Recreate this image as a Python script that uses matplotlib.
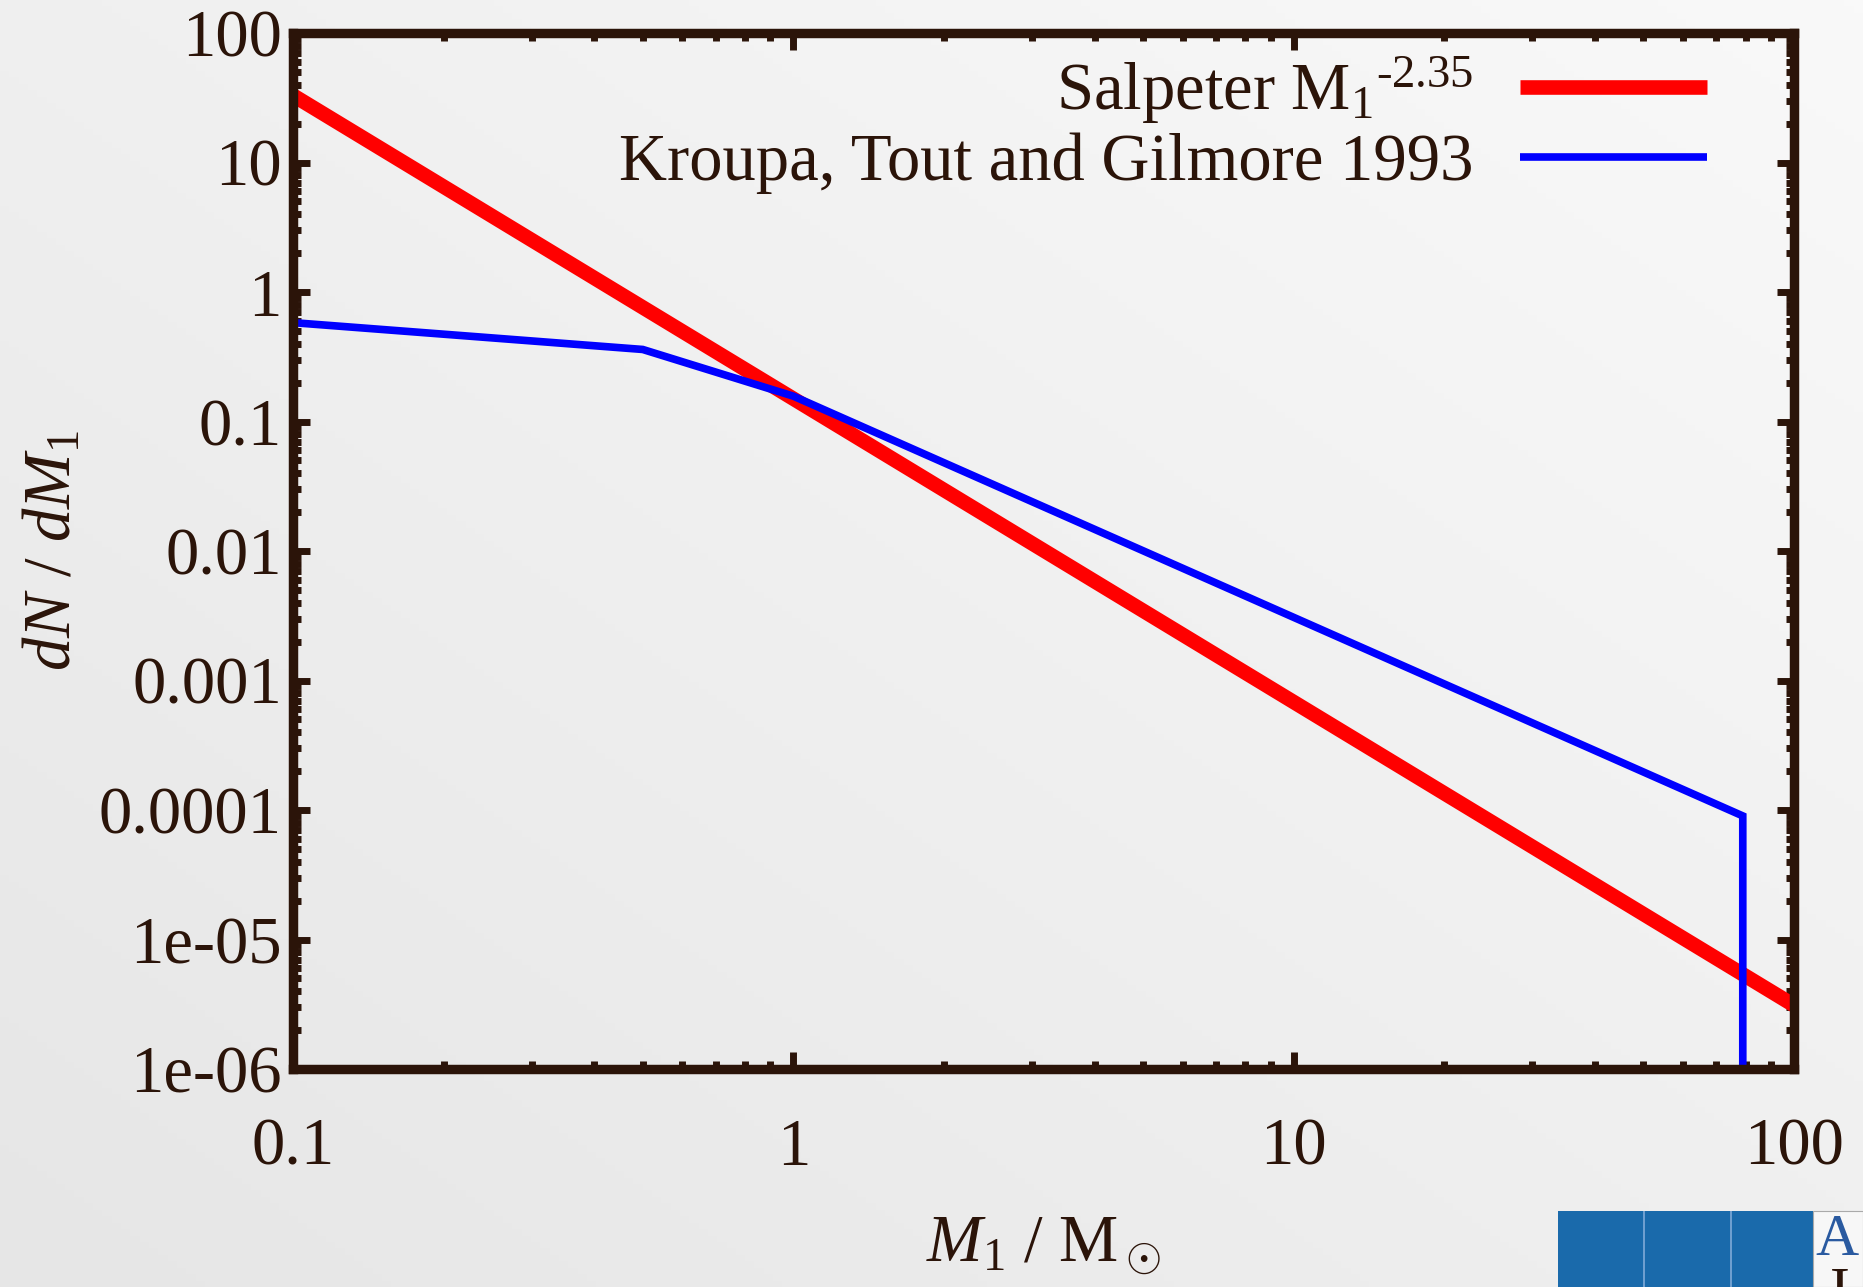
import numpy as np
import matplotlib
matplotlib.use("Agg")
import matplotlib.pyplot as plt
from matplotlib.patches import Rectangle

# ---- data ----
salpeter_mass = [0.1, 100.0]
salpeter_dndm = [33.0, 3.1e-6]

ktg_mass = [0.1, 0.5, 1.0, 79.0, 79.0]
ktg_dndm = [0.58, 0.36, 0.157, 9.0e-5, 1.0e-6]

x_ticks = [0.1, 1, 10, 100]
x_ticklabels = ["0.1", "1", "10", "100"]
y_ticks = [1e-6, 1e-5, 1e-4, 1e-3, 1e-2, 1e-1, 1, 10, 100]
y_ticklabels = ["1e-06", "1e-05", "0.0001", "0.001", "0.01", "0.1", "1", "10", "100"]

labels = [r"Salpeter M$_1{}^{\text{-2.35}}$", "Kroupa, Tout and Gilmore 1993"]

# ---- style ----
ink = "#2b1409"
plt.rcParams["font.family"] = ["Liberation Serif", "DejaVu Serif"]
plt.rcParams["mathtext.fontset"] = "custom"
plt.rcParams["mathtext.rm"] = "Liberation Serif"
plt.rcParams["mathtext.it"] = "Liberation Serif:italic"
plt.rcParams["mathtext.bf"] = "Liberation Serif:bold"

W, H, DPI = 1863, 1287, 100
fig = plt.figure(figsize=(W / DPI, H / DPI), dpi=DPI)
fig.patch.set_facecolor("#f0f0f0")

# background gradient (light top-right, slightly darker bottom-left)
bg = fig.add_axes([0, 0, 1, 1], zorder=-10)
gx, gy = np.meshgrid(np.linspace(0, 1, 200), np.linspace(0, 1, 200))
grad = 0.5 * gx + 0.5 * (1 - gy)
bg.imshow(grad, cmap=matplotlib.colors.LinearSegmentedColormap.from_list(
    "g", ["#e6e6e6", "#f9f9f9"]), aspect="auto", extent=[0, 1, 0, 1], origin="upper")
bg.set_axis_off()

L, R, T, B = 293, 1794, 33, 1069
ax = fig.add_axes([L / W, 1 - B / H, (R - L) / W, (B - T) / H])
ax.set_facecolor("none")

ax.plot(salpeter_mass, salpeter_dndm, color="#ff0000", lw=10.5, solid_capstyle="butt",
        label=labels[0], zorder=3)
ax.plot(ktg_mass, ktg_dndm, color="#0000ff", lw=5.5, solid_joinstyle="miter",
        solid_capstyle="butt", label=labels[1], zorder=4)

ax.set_xscale("log")
ax.set_yscale("log")
ax.set_xlim(0.1, 100)
ax.set_ylim(1e-6, 100)
ax.set_xticks(x_ticks)
ax.set_xticklabels(x_ticklabels)
ax.set_yticks(y_ticks)
ax.set_yticklabels(y_ticklabels)
ax.xaxis.set_minor_locator(matplotlib.ticker.LogLocator(base=10, subs=np.arange(2, 10)))
ax.yaxis.set_minor_locator(matplotlib.ticker.LogLocator(base=10, subs=np.arange(2, 10), numticks=20))
ax.xaxis.set_minor_formatter(matplotlib.ticker.NullFormatter())
ax.yaxis.set_minor_formatter(matplotlib.ticker.NullFormatter())

for s in ax.spines.values():
    s.set_linewidth(6.8)
    s.set_color(ink)
    s.set_zorder(5)

ax.tick_params(which="both", direction="in", top=True, right=True, color=ink,
               labelcolor=ink, labelsize=48)
ax.tick_params(which="major", length=12, width=5)
ax.tick_params(which="minor", length=6, width=5)
ax.tick_params(axis="x", which="major", pad=35)
ax.tick_params(axis="y", which="major", pad=8)

ax.set_xlabel(r"$M_{\mathit{1}}$ / M$_\odot$", fontsize=48, color=ink)
ax.xaxis.set_label_coords(0.5, -0.141)
ax.set_ylabel(r"$dN$ / $dM_{\mathit{1}}$", fontsize=48, color=ink)
ax.yaxis.set_label_coords(-0.139, 0.5)

leg = ax.legend(loc="upper right", markerfirst=False, frameon=False, fontsize=48,
                handlelength=2.8, handletextpad=0.7, borderaxespad=0.0,
                borderpad=0.0, labelspacing=0.1, bbox_to_anchor=(0.942, 0.979))
for t in leg.get_texts():
    t.set_color(ink)

# logo fragment bottom right
fig.patches.append(Rectangle((1558 / W, 0), (1813 - 1558) / W, (H - 1211) / H,
                             transform=fig.transFigure, facecolor="#1a6aab",
                             edgecolor="none", zorder=5))
for xv in (1643, 1730):
    fig.patches.append(Rectangle((xv / W, 0), 1.5 / W, (H - 1211) / H,
                                 transform=fig.transFigure, facecolor="#6e9fd0",
                                 edgecolor="none", zorder=6))
fig.patches.append(Rectangle((1813 / W, 0), (W - 1813) / W, (H - 1211) / H,
                             transform=fig.transFigure, facecolor="#f7f7f7",
                             edgecolor="#aaaaaa", lw=0.8, zorder=5))
fig.text(1837 / W, 1 - 1255 / H, "A", fontsize=43, color="#2a5aa0", ha="center",
         va="baseline", zorder=7)
fig.text(1840 / W, 1 - 1308 / H, "I", fontsize=43, color="#2b1409", ha="center",
         va="baseline", zorder=7)

fig.savefig("out.png", dpi=DPI, facecolor=fig.get_facecolor())
